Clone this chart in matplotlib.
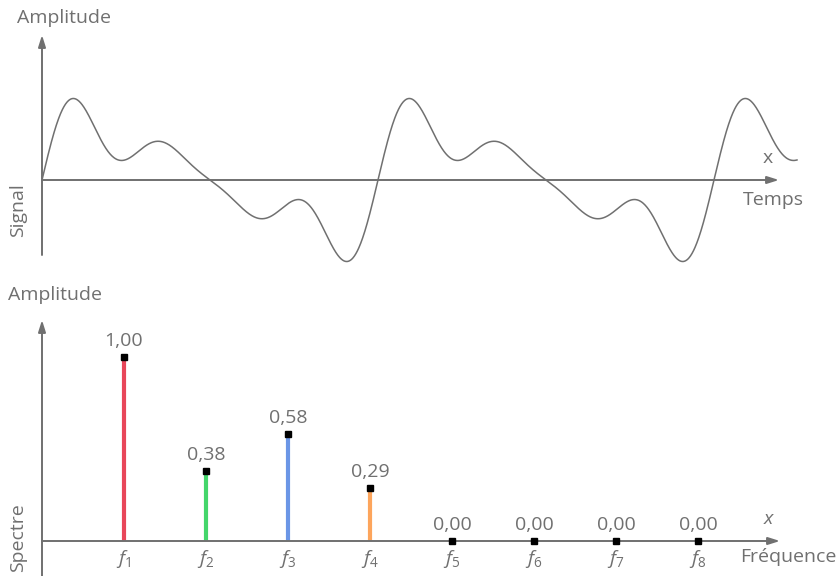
import matplotlib.pyplot as plt
import numpy as np

# spectrum of the signal: harmonic index and amplitude
harmonics = [1, 2, 3, 4, 5, 6, 7, 8]
amplitudes = [1.00, 0.38, 0.58, 0.29, 0.00, 0.00, 0.00, 0.00]
stem_colors = ['#e8465a', '#44d66b', '#6b96e6', '#fda55c', '#888888', '#888888', '#888888', '#888888']
value_labels = ['1,00', '0,38', '0,58', '0,29', '0,00', '0,00', '0,00', '0,00']
periods_shown = 2.247

GREY = '#707070'
W, H = 840, 576
FS = 14

plt.rcParams['font.family'] = ['Open Sans', 'DejaVu Sans']
plt.rcParams['mathtext.fontset'] = 'custom'
plt.rcParams['mathtext.it'] = 'Open Sans:italic'
plt.rcParams['mathtext.rm'] = 'Open Sans'

fig = plt.figure(figsize=(W / 100, H / 100), dpi=100)


def fx(px):
    return px / W


def fy(py):
    return 1 - py / H


def arrow(ax, x0, y0, x1, y1):
    ax.annotate('', xy=(x1, y1), xytext=(x0, y0),
                arrowprops=dict(arrowstyle='-|>,head_length=0.7,head_width=0.22',
                                color=GREY, lw=1.4, shrinkA=0, shrinkB=0))


# ---- top panel: time signal (sum of the harmonics) ----
ax1 = fig.add_axes([0, fy(280), 1, 280 / H])
px_per_period = 336.0
px_per_unit = 48.5
ax1.set_xlim(-42 / px_per_period, (W - 42) / px_per_period)
ax1.set_ylim(-(280 - 180) / px_per_unit, 180 / px_per_unit)
ax1.axis('off')

t = np.linspace(0, periods_shown, 2000)
signal = np.zeros_like(t)
for k, a in zip(harmonics, amplitudes):
    signal += a * np.sin(2 * np.pi * k * t)
ax1.plot(t, signal, color=GREY, lw=1.1)

arrow(ax1, 0, -(255 - 180) / px_per_unit, 0, (180 - 35) / px_per_unit)
arrow(ax1, 0, 0, (779 - 42) / px_per_period, 0)

fig.text(fx(17), fy(18), 'Amplitude', color=GREY, fontsize=FS, va='center', ha='left')
fig.text(fx(18), fy(210), 'Signal', color=GREY, fontsize=FS, va='center', ha='center', rotation=90)
fig.text(fx(768), fy(158), 'x', color=GREY, fontsize=FS, va='center', ha='center')
fig.text(fx(773), fy(200), 'Temps', color=GREY, fontsize=FS, va='center', ha='center')

# ---- bottom panel: spectrum ----
ax2 = fig.add_axes([0, 0, 1, 296 / H])
px_per_harm = 82.0
px_per_amp = 184.0
ax2.set_xlim(-42 / px_per_harm, (W - 42) / px_per_harm)
ax2.set_ylim(-(576 - 541) / px_per_amp, (541 - 280) / px_per_amp)
ax2.axis('off')

arrow(ax2, 0, -(576 - 541) / px_per_amp, 0, (541 - 320) / px_per_amp)
arrow(ax2, 0, 0, (780 - 42) / px_per_harm, 0)

for h, a, c, lab in zip(harmonics, amplitudes, stem_colors, value_labels):
    if a > 0:
        ax2.plot([h, h], [0, a], color=c, lw=3.0, solid_capstyle='butt', zorder=2)
    ax2.plot(h, a, marker='s', color='black', ms=3.8, zorder=3)
    ax2.annotate(lab, (h, a), xytext=(0, 5), textcoords='offset points',
                 ha='center', va='bottom', color=GREY, fontsize=FS)
    ax2.annotate('$f_{%d}$' % h, (h, 0), xytext=(0, -5), textcoords='offset points',
                 ha='center', va='top', color=GREY, fontsize=14)

fig.text(fx(8), fy(295), 'Amplitude', color=GREY, fontsize=FS, va='center', ha='left')
fig.text(fx(18), fy(538), 'Spectre', color=GREY, fontsize=FS, va='center', ha='center', rotation=90)
fig.text(fx(769), fy(519), '$x$', color=GREY, fontsize=14, va='center', ha='center')
fig.text(fx(788), fy(557), 'Fréquence', color=GREY, fontsize=FS, va='center', ha='center')

fig.savefig('out.png', dpi=100)
